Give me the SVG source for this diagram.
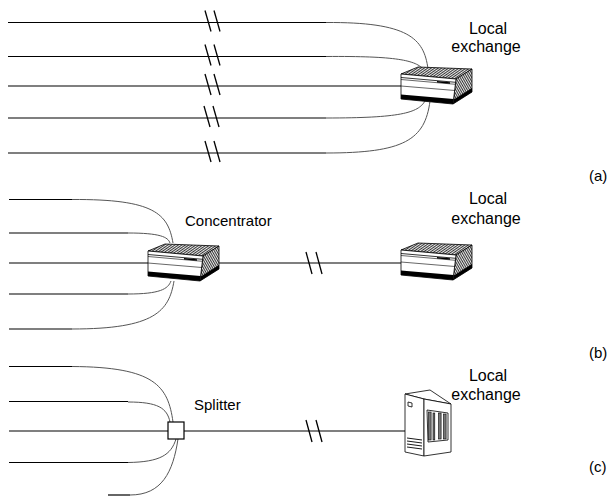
<svg xmlns="http://www.w3.org/2000/svg" width="612" height="497" viewBox="0 0 612 497">
  <style>
    .wire { fill: none; stroke: #000; stroke-width: 1.2; }
    .bend { fill: none; stroke: #555; stroke-width: 1; }
    .brk { stroke: #000; stroke-width: 1.3; }
    .edge { stroke: #000; stroke-width: 0.8; stroke-linejoin: round; }
    text { font-family: "Liberation Sans", Arial, Helvetica, sans-serif; font-size: 15px; fill: #000; }
    .mid { text-anchor: middle; font-size: 16px; }
  </style>
  <defs>
    <pattern id="hatchTop" patternUnits="userSpaceOnUse" width="2" height="2" patternTransform="rotate(-35)">
      <rect width="2" height="2" fill="#fff"/>
      <line x1="0" y1="0.6" x2="2" y2="0.6" stroke="#222" stroke-width="1"/>
    </pattern>
    <pattern id="hatchSide" patternUnits="userSpaceOnUse" width="2" height="2" patternTransform="rotate(60)">
      <rect width="2" height="2" fill="#fff"/>
      <line x1="0" y1="0.6" x2="2" y2="0.6" stroke="#222" stroke-width="1"/>
    </pattern>
    <!-- switching cabinet, origin at front-left-top corner -->
    <g id="switchbox">
      <polygon class="edge" points="0,0 17,-7 71,-5 55,5" fill="url(#hatchTop)"/>
      <polygon class="edge" points="55,5 71,-5 71,18 52,30" fill="url(#hatchSide)"/>
      <polygon points="52,26 71,14 71,18 52,30" fill="#000"/>
      <polygon class="edge" points="0,0 55,5 52,30 0,25" fill="#fff"/>
      <polygon points="0,20.5 52.5,25 52,30 0,25" fill="#000"/>
      <line x1="0" y1="3.5" x2="54.6" y2="8.3" stroke="#000" stroke-width="0.8"/>
      <line x1="0" y1="5.5" x2="54.4" y2="10.3" stroke="#000" stroke-width="0.6"/>
      <polygon points="36,7 49,8.2 49,9.8 36,8.6" fill="#000"/>
      <line x1="0" y1="12" x2="54" y2="16.5" stroke="#000" stroke-width="0.6"/>
    </g>
  </defs>

  <rect width="612" height="497" fill="#fff"/>

  <!-- subscriber lines -->
  <g id="connectors">
    <!-- (a) direct lines to the exchange -->
    <path class="wire" d="M8,22.5 H326"/>
    <path class="bend" d="M326,22.5 C408,22 424,38 428,69"/>
    <path class="wire" d="M8,56.5 H326"/>
    <path class="bend" d="M326,56.5 C396,56 416,60 424,70"/>
    <path class="wire" d="M8,86 H401"/>
    <path class="wire" d="M8,118 H326"/>
    <path class="bend" d="M326,118 C400,118 418,113 425,101"/>
    <path class="wire" d="M8,153 H326"/>
    <path class="bend" d="M326,153 C404,153 425,140 430,101"/>
    <g class="brk">
      <line x1="205" y1="10.5" x2="211" y2="31.5"/><line x1="214" y1="10.5" x2="220" y2="31.5"/>
      <line x1="205" y1="44.5" x2="211" y2="65.5"/><line x1="214" y1="44.5" x2="220" y2="65.5"/>
      <line x1="205" y1="74" x2="211" y2="95"/><line x1="214" y1="74" x2="220" y2="95"/>
      <line x1="204" y1="106" x2="210" y2="127"/><line x1="213" y1="106" x2="219" y2="127"/>
      <line x1="205" y1="141" x2="211" y2="162"/><line x1="214" y1="141" x2="220" y2="162"/>
    </g>

    <!-- (b) lines into the concentrator -->
    <path class="wire" d="M9,199.5 H72"/>
    <path class="bend" d="M72,199.5 C155,199 168,214 173,243"/>
    <path class="wire" d="M9,233 H128"/>
    <path class="bend" d="M128,233 C160,233 168,237 170,243"/>
    <path class="wire" d="M9,263 H148"/>
    <path class="wire" d="M9,294 H128"/>
    <path class="bend" d="M128,294 C160,294 168,289 171,281"/>
    <path class="wire" d="M9,329 H72"/>
    <path class="bend" d="M72,329 C155,329 169,311 174,281"/>
    <path class="wire" d="M219,263 H401"/>
    <g class="brk">
      <line x1="306" y1="252" x2="312" y2="274"/><line x1="316" y1="252" x2="322" y2="274"/>
    </g>

    <!-- (c) lines into the splitter -->
    <path class="wire" d="M9,366.5 H72"/>
    <path class="bend" d="M72,366.5 C155,367 168,386 173,422"/>
    <path class="wire" d="M9,401.5 H128"/>
    <path class="bend" d="M128,402 C158,402 167,408 170,422"/>
    <path class="wire" d="M9,431 H168"/>
    <path class="wire" d="M9,462.5 H128"/>
    <path class="bend" d="M128,462.5 C160,462 171,455 176,439"/>
    <path class="wire" d="M108,495 H130"/>
    <path class="bend" d="M130,495 C162,495 173,472 178,439"/>
    <path class="wire" d="M184,431 H405"/>
    <g class="brk">
      <line x1="306" y1="420" x2="312" y2="442"/><line x1="316" y1="420" x2="322" y2="442"/>
    </g>
  </g>

  <g id="exchange-a">
    <use href="#switchbox" transform="translate(401,74)"/>
    <text class="mid" x="488" y="34">Local</text>
    <text class="mid" x="486" y="52">exchange</text>
  </g>
  <text x="589" y="181">(a)</text>

  <g id="concentrator">
    <use href="#switchbox" transform="translate(148,251)"/>
    <text x="185" y="226">Concentrator</text>
  </g>

  <g id="exchange-b">
    <use href="#switchbox" transform="translate(401,250)"/>
    <text class="mid" x="488" y="204">Local</text>
    <text class="mid" x="486" y="224">exchange</text>
  </g>
  <text x="589" y="358">(b)</text>

  <g id="splitter">
    <rect x="168" y="422" width="16" height="17" fill="#fff" stroke="#000" stroke-width="1.2"/>
    <text x="194" y="410">Splitter</text>
  </g>

  <g id="exchange-c">
    <polygon class="edge" points="405,394 430,390 451,404 424,399" fill="#fff"/>
    <polygon class="edge" points="405,394 424,399 424,456 405,452" fill="#fff"/>
    <polygon class="edge" points="424,399 451,404 451,452 424,456" fill="#fff"/>
    <polygon class="edge" points="408,402 412,403 412,407 408,406" fill="#fff"/>
    <g stroke="#000" stroke-width="0.9">
      <line x1="407" y1="438" x2="422" y2="440"/>
      <line x1="407" y1="441" x2="422" y2="443"/>
      <line x1="407" y1="444" x2="422" y2="446"/>
      <line x1="407" y1="447" x2="422" y2="449"/>
    </g>
    <polygon class="edge" points="427,410 448,413 448,440 428,442" fill="#fff"/>
    <g fill="#777" stroke="#000" stroke-width="0.6">
      <rect x="428.5" y="412" width="2.6" height="28"/>
      <rect x="433" y="413" width="1.8" height="27"/>
      <rect x="438.5" y="413" width="2.6" height="26"/>
      <rect x="443.5" y="414" width="2.6" height="25"/>
    </g>
    <text class="mid" x="488" y="381">Local</text>
    <text class="mid" x="486" y="400">exchange</text>
  </g>
  <text x="589" y="472">(c)</text>
</svg>
